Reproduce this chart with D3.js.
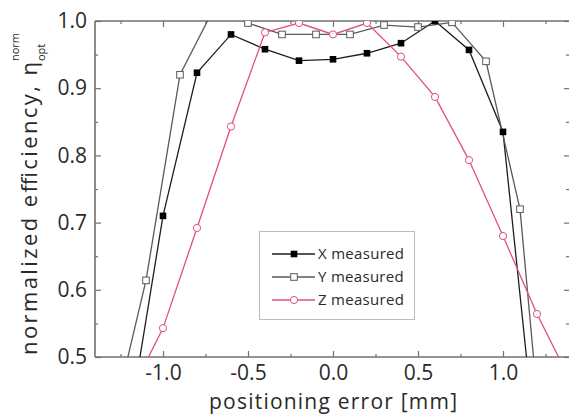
<!DOCTYPE html>
<html><head><meta charset="utf-8">
<script src="https://cdn.jsdelivr.net/npm/d3@7"></script>
<style>body{margin:0;background:#fff}svg{display:block}</style>
</head><body>
<svg id="chart" width="569" height="414"></svg>
<script>
// ---- data ----
const xPos = [-1.2,-1.0,-0.8,-0.6,-0.4,-0.2,0.0,0.2,0.4,0.6,0.8,1.0,1.2];
const xVals = [0.40,0.710,0.923,0.980,0.958,0.941,0.943,0.952,0.967,1.000,0.957,0.835,0.35];
const yPos = [-1.3,-1.1,-0.9,-0.7,-0.5,-0.3,-0.1,0.1,0.3,0.5,0.7,0.9,1.1,1.3];
const yVals = [0.40,0.614,0.920,1.019,0.997,0.980,0.980,0.980,0.994,0.991,0.998,0.940,0.720,0.165];
const zPos = [-1.2,-1.0,-0.8,-0.6,-0.4,-0.2,0.0,0.2,0.4,0.6,0.8,1.0,1.2,1.4];
const zVals = [0.442,0.543,0.692,0.843,0.983,0.997,0.980,0.997,0.947,0.887,0.793,0.680,0.564,0.463];
const seriesNames = ["X measured","Y measured","Z measured"];
const xTicks = [-1.0,-0.5,0.0,0.5,1.0];
const xMinor = [-1.25,-0.75,-0.25,0.25,0.75,1.25];
const yTicks = [0.5,0.6,0.7,0.8,0.9,1.0];
const yMinor = [0.55,0.65,0.75,0.85,0.95];

const svg = d3.select("#chart");
const L = 95, R = 571, T = 21, B = 357;
const x = d3.scaleLinear().domain([-1.4,1.4]).range([L,R]);
const y = d3.scaleLinear().domain([0.5,1.0]).range([B,T]);
const font = "'Open Sans', sans-serif";
const txt = "#2a2a2a", axc = "#707070";

svg.append("defs").append("clipPath").attr("id","clip")
  .append("rect").attr("x",L).attr("y",T).attr("width",R-L).attr("height",B-T);

const fmt = v => d3.format(".1f")(v).replace("\u2212","-");
const gb = svg.append("g").attr("transform",`translate(0,${B})`)
  .call(d3.axisBottom(x).tickValues(xTicks).tickSizeInner(-6).tickSizeOuter(0).tickPadding(8).tickFormat(fmt));
const gbm = svg.append("g").attr("transform",`translate(0,${B})`)
  .call(d3.axisBottom(x).tickValues(xMinor).tickSizeInner(-3).tickSizeOuter(0).tickFormat(""));
const gt = svg.append("g").attr("transform",`translate(0,${T})`)
  .call(d3.axisTop(x).tickValues(xTicks).tickSizeInner(-6).tickSizeOuter(0).tickFormat(""));
const gtm = svg.append("g").attr("transform",`translate(0,${T})`)
  .call(d3.axisTop(x).tickValues(xMinor).tickSizeInner(-3).tickSizeOuter(0).tickFormat(""));
const gl = svg.append("g").attr("transform",`translate(${L},0)`)
  .call(d3.axisLeft(y).tickValues(yTicks).tickSizeInner(-6).tickSizeOuter(0).tickPadding(8).tickFormat(fmt));
const glm = svg.append("g").attr("transform",`translate(${L},0)`)
  .call(d3.axisLeft(y).tickValues(yMinor).tickSizeInner(-3).tickSizeOuter(0).tickFormat(""));
const gr = svg.append("g").attr("transform",`translate(${R-2},0)`)
  .call(d3.axisRight(y).tickValues(yTicks).tickSizeInner(-5).tickSizeOuter(0).tickFormat(""));
const grm = svg.append("g").attr("transform",`translate(${R-2},0)`)
  .call(d3.axisRight(y).tickValues(yMinor).tickSizeInner(-3).tickSizeOuter(0).tickFormat(""));
[gb,gbm,gt,gtm,gl,glm,gr,grm].forEach(g=>{
  g.select(".domain").remove();
  g.selectAll(".tick line").attr("stroke",axc).attr("stroke-width",1.2);
  g.selectAll(".tick text").attr("fill",txt).style("font-family",font).style("font-size","21px");
});
// frame lines
svg.append("line").attr("x1",L).attr("x2",L).attr("y1",T).attr("y2",B).attr("stroke",axc).attr("stroke-width",1.6);
svg.append("line").attr("x1",L).attr("x2",R).attr("y1",B).attr("y2",B).attr("stroke",axc).attr("stroke-width",1.6);
svg.append("line").attr("x1",L).attr("x2",R).attr("y1",T).attr("y2",T).attr("stroke",axc).attr("stroke-width",1.6);

// series
const plot = svg.append("g").attr("clip-path","url(#clip)");
const line = d3.line().x(d=>x(d[0])).y(d=>y(d[1]));
const series = [
  {pos:xPos, vals:xVals, color:"#1e1e1e", mk:"fsq"},
  {pos:yPos, vals:yVals, color:"#5a5a5a", mk:"osq"},
  {pos:zPos, vals:zVals, color:"#e0507a", mk:"oc"}
];
function drawMarker(g, type, color, cx, cy){
  if(type==="fsq") g.append("rect").attr("x",cx-3.3).attr("y",cy-3.3).attr("width",6.6).attr("height",6.6).attr("fill","#000");
  else if(type==="osq") g.append("rect").attr("x",cx-3.3).attr("y",cy-3.3).attr("width",6.6).attr("height",6.6).attr("fill","#fff").attr("stroke",color).attr("stroke-width",1);
  else g.append("circle").attr("cx",cx).attr("cy",cy).attr("r",3.6).attr("fill","#fff").attr("stroke",color).attr("stroke-width",1);
}
series.forEach(s=>{
  const pts = s.pos.map((p,i)=>[p,s.vals[i]]);
  plot.append("path").datum(pts).attr("d",line).attr("fill","none").attr("stroke",s.color).attr("stroke-width",1.3);
});
series.forEach(s=>{
  s.pos.forEach((p,i)=>drawMarker(plot, s.mk, s.color, x(p), y(s.vals[i])));
});

// legend
const lg = svg.append("g");
lg.append("rect").attr("x",259.5).attr("y",231.5).attr("width",155).attr("height",88).attr("fill","#fff").attr("stroke","#bdbdbd").attr("stroke-width",1);
const rowsY = [254,277,300];
series.forEach((s,i)=>{
  const ry = rowsY[i];
  lg.append("line").attr("x1",272).attr("x2",315).attr("y1",ry).attr("y2",ry).attr("stroke",s.color).attr("stroke-width",1.3);
  drawMarker(lg, s.mk, s.color, 294, ry);
  lg.append("text").attr("x",318).attr("y",ry+5).attr("fill",txt).style("font-family",font).style("font-size","15px")
    .style("letter-spacing","0.3px").text(seriesNames[i]);
});

// axis titles
svg.append("text").attr("x",333).attr("y",409).attr("text-anchor","middle").attr("fill",txt)
  .attr("textLength",248).attr("lengthAdjust","spacing")
  .style("font-family",font).style("font-size","21px").text("positioning error [mm]");
const yl = svg.append("g").attr("transform","translate(37,355) rotate(-90)");
const main = yl.append("text").attr("x",0).attr("y",0).attr("fill",txt)
  .attr("textLength",293).attr("lengthAdjust","spacing")
  .style("font-family",font).style("font-size","22px").text("normalized efficiency, η");
const len = 293;
yl.append("text").attr("x",len+1).attr("y",-18).attr("fill",txt)
  .style("font-family",font).style("font-size","11px").text("norm");
yl.append("text").attr("x",len+1).attr("y",8).attr("fill",txt)
  .style("font-family",font).style("font-size","11px").text("opt");
</script>
</body></html>
